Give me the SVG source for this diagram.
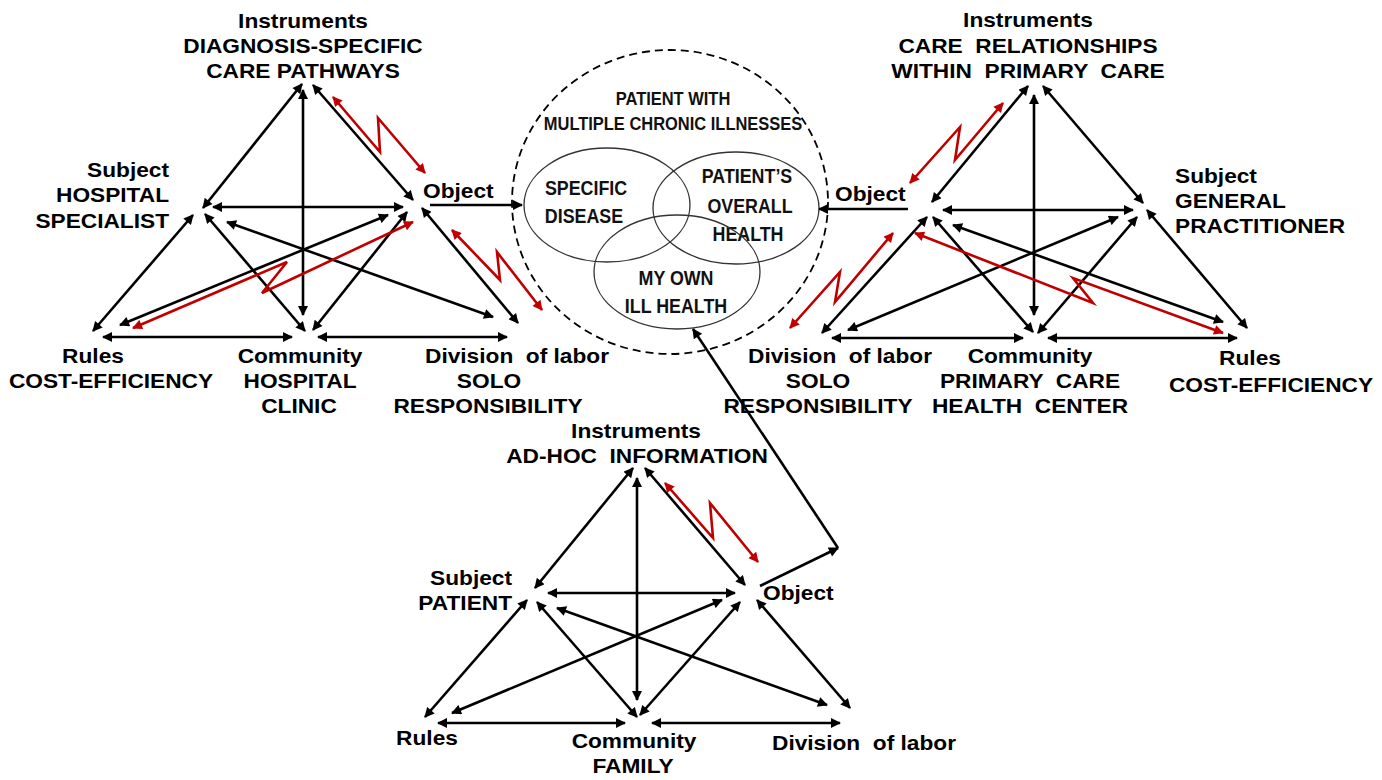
<svg xmlns="http://www.w3.org/2000/svg" width="1382" height="780" viewBox="0 0 1382 780">
<defs>
<style>
.t{font-family:"Liberation Sans",Arial,sans-serif;font-weight:bold;font-size:20px;fill:#000}
.m{text-anchor:middle}
.e{text-anchor:end}
.c{font-family:"Liberation Sans",Arial,sans-serif;font-weight:bold;font-size:20.5px;text-anchor:middle;fill:#111}
.ct{font-size:18.5px}
.l{stroke:#000;stroke-width:2.6;fill:none;marker-start:url(#a);marker-end:url(#a)}
.s{stroke:#000;stroke-width:2.6;fill:none;marker-end:url(#a)}
.r{stroke:#c00000;stroke-width:2.6;fill:none;stroke-linejoin:miter;marker-start:url(#ar);marker-end:url(#ar)}
.ell{fill:none;stroke:#333;stroke-width:1.3}
</style>
<marker id="a" viewBox="0 0 10 10" refX="9" refY="5" markerWidth="12" markerHeight="10" markerUnits="userSpaceOnUse" orient="auto-start-reverse"><path d="M0,0 L10,5 L0,10 z" fill="#000"/></marker>
<marker id="ar" viewBox="0 0 10 10" refX="9" refY="5" markerWidth="12" markerHeight="10" markerUnits="userSpaceOnUse" orient="auto-start-reverse"><path d="M0,0 L10,5 L0,10 z" fill="#c00000"/></marker>
</defs>
<rect width="1382" height="780" fill="#fff"/>

<!-- center patient -->
<g id="patient">
<ellipse cx="670" cy="202" rx="158" ry="152" fill="none" stroke="#000" stroke-width="1.8" stroke-dasharray="8 5"/>
<text class="c ct" transform="translate(673,105) scale(0.89,1)">PATIENT WITH</text>
<text class="c ct" transform="translate(673,130) scale(0.89,1)">MULTIPLE CHRONIC ILLNESSES</text>
</g>
<g id="specific-disease">
<ellipse class="ell" cx="607" cy="205" rx="83" ry="57"/>
<text class="c" transform="translate(586,195) scale(0.87,1)">SPECIFIC</text>
<text class="c" transform="translate(584,223) scale(0.87,1)">DISEASE</text>
</g>
<g id="overall-health">
<ellipse class="ell" cx="736" cy="208" rx="83" ry="56"/>
<text class="c" transform="translate(747,183) scale(0.87,1)">PATIENT’S</text>
<text class="c" transform="translate(750,213) scale(0.87,1)">OVERALL</text>
<text class="c" transform="translate(748,241) scale(0.87,1)">HEALTH</text>
</g>
<g id="own-ill-health">
<ellipse class="ell" cx="677" cy="272" rx="83" ry="57"/>
<text class="c" transform="translate(676,285) scale(0.87,1)">MY OWN</text>
<text class="c" transform="translate(676,313) scale(0.87,1)">ILL HEALTH</text>
</g>

<!-- left triangle nodes -->
<g id="hs-instruments">
<text class="t m" transform="translate(303,28) scale(1.135,1)">Instruments</text>
<text class="t m" transform="translate(303,53) scale(1.135,1)">DIAGNOSIS-SPECIFIC</text>
<text class="t m" transform="translate(303,78) scale(1.135,1)">CARE PATHWAYS</text>
</g>
<g id="hs-subject">
<text class="t e" transform="translate(169,177) scale(1.135,1)">Subject</text>
<text class="t e" transform="translate(169,202) scale(1.135,1)">HOSPITAL</text>
<text class="t e" transform="translate(169,228) scale(1.135,1)">SPECIALIST</text>
</g>
<g id="hs-object">
<text class="t" transform="translate(423,198) scale(1.135,1)">Object</text>
</g>
<g id="hs-rules">
<text class="t m" transform="translate(93,363) scale(1.135,1)">Rules</text>
<text class="t m" transform="translate(111,388) scale(1.135,1)">COST-EFFICIENCY</text>
</g>
<g id="hs-community">
<text class="t m" transform="translate(300,363) scale(1.135,1)">Community</text>
<text class="t m" transform="translate(300,388) scale(1.135,1)">HOSPITAL</text>
<text class="t m" transform="translate(299,413) scale(1.135,1)">CLINIC</text>
</g>
<g id="hs-division">
<text class="t m" transform="translate(517,363) scale(1.135,1)" xml:space="preserve">Division  of labor</text>
<text class="t m" transform="translate(489,388) scale(1.135,1)">SOLO</text>
<text class="t m" transform="translate(488,413) scale(1.135,1)">RESPONSIBILITY</text>
</g>

<!-- right triangle nodes -->
<g id="gp-instruments">
<text class="t m" transform="translate(1028,27) scale(1.135,1)">Instruments</text>
<text class="t m" transform="translate(1028,53) scale(1.135,1)" xml:space="preserve">CARE  RELATIONSHIPS</text>
<text class="t m" transform="translate(1028,78) scale(1.135,1)" xml:space="preserve">WITHIN  PRIMARY  CARE</text>
</g>
<g id="gp-object">
<text class="t" transform="translate(835,201) scale(1.135,1)">Object</text>
</g>
<g id="gp-subject">
<text class="t" transform="translate(1175,183) scale(1.135,1)">Subject</text>
<text class="t" transform="translate(1175,208) scale(1.135,1)">GENERAL</text>
<text class="t" transform="translate(1175,233) scale(1.135,1)">PRACTITIONER</text>
</g>
<g id="gp-division">
<text class="t m" transform="translate(840,363) scale(1.135,1)" xml:space="preserve">Division  of labor</text>
<text class="t m" transform="translate(818,388) scale(1.135,1)">SOLO</text>
<text class="t m" transform="translate(818,413) scale(1.135,1)">RESPONSIBILITY</text>
</g>
<g id="gp-community">
<text class="t m" transform="translate(1030,363) scale(1.135,1)">Community</text>
<text class="t m" transform="translate(1030,388) scale(1.135,1)" xml:space="preserve">PRIMARY  CARE</text>
<text class="t m" transform="translate(1030,413) scale(1.135,1)" xml:space="preserve">HEALTH  CENTER</text>
</g>
<g id="gp-rules">
<text class="t m" transform="translate(1250,365) scale(1.135,1)">Rules</text>
<text class="t m" transform="translate(1271,392) scale(1.135,1)">COST-EFFICIENCY</text>
</g>

<!-- bottom triangle nodes -->
<g id="pt-instruments">
<text class="t m" transform="translate(636,438) scale(1.135,1)">Instruments</text>
<text class="t m" transform="translate(637,463) scale(1.135,1)" xml:space="preserve">AD-HOC  INFORMATION</text>
</g>
<g id="pt-subject">
<text class="t e" transform="translate(512,585) scale(1.135,1)">Subject</text>
<text class="t e" transform="translate(512,610) scale(1.135,1)">PATIENT</text>
</g>
<g id="pt-object">
<text class="t" transform="translate(763,600) scale(1.135,1)">Object</text>
</g>
<g id="pt-rules">
<text class="t m" transform="translate(427,745) scale(1.135,1)">Rules</text>
</g>
<g id="pt-community">
<text class="t m" transform="translate(634,748) scale(1.135,1)">Community</text>
<text class="t m" transform="translate(633,773) scale(1.135,1)">FAMILY</text>
</g>
<g id="pt-division">
<text class="t" transform="translate(772,750) scale(1.135,1)" xml:space="preserve">Division  of labor</text>
</g>

<g id="connectors">
<!-- left -->
<line class="l" x1="302" y1="84" x2="203" y2="208"/>
<line class="l" x1="303" y1="90" x2="303" y2="315"/>
<line class="l" x1="313" y1="85" x2="413" y2="200"/>
<line class="l" x1="213" y1="207" x2="403" y2="207"/>
<line class="l" x1="193" y1="215" x2="93" y2="331"/>
<line class="l" x1="205" y1="214" x2="305" y2="331"/>
<line class="l" x1="227" y1="222" x2="493" y2="317"/>
<line class="l" x1="120" y1="325" x2="388" y2="215"/>
<line class="l" x1="313" y1="330" x2="407" y2="212"/>
<line class="l" x1="422" y1="208" x2="518" y2="323"/>
<line class="l" x1="103" y1="337" x2="292" y2="337"/>
<line class="l" x1="318" y1="337" x2="507" y2="337"/>
<polyline class="r" points="133,328 287,262 262,293 413,222"/>
<polyline class="r" points="333,97 380,152 378,118 425,173"/>
<polyline class="r" points="452,230 500,280 497,252 542,310"/>
<line class="s" x1="430" y1="205" x2="522" y2="205"/>
<!-- right -->
<line class="l" x1="1028" y1="86" x2="932" y2="202"/>
<line class="l" x1="1034" y1="95" x2="1034" y2="315"/>
<line class="l" x1="1043" y1="86" x2="1143" y2="203"/>
<line class="l" x1="943" y1="210" x2="1133" y2="210"/>
<line class="l" x1="927" y1="217" x2="822" y2="333"/>
<line class="l" x1="933" y1="217" x2="1033" y2="332"/>
<line class="l" x1="953" y1="225" x2="1223" y2="322"/>
<line class="l" x1="1118" y1="217" x2="848" y2="330"/>
<line class="l" x1="1137" y1="217" x2="1038" y2="333"/>
<line class="l" x1="1147" y1="210" x2="1247" y2="328"/>
<line class="l" x1="832" y1="338" x2="1023" y2="338"/>
<line class="l" x1="1048" y1="338" x2="1237" y2="338"/>
<polyline class="r" points="915,233 1093,303 1073,278 1223,333"/>
<polyline class="r" points="1003,103 955,160 960,127 910,183"/>
<polyline class="r" points="893,233 835,302 840,272 790,328"/>
<line class="s" x1="908" y1="209" x2="819" y2="209"/>
<!-- bottom -->
<line class="l" x1="633" y1="468" x2="535" y2="588"/>
<line class="l" x1="637" y1="478" x2="637" y2="700"/>
<line class="l" x1="645" y1="468" x2="745" y2="585"/>
<line class="l" x1="548" y1="593" x2="735" y2="593"/>
<line class="l" x1="757" y1="600" x2="850" y2="708"/>
<line class="l" x1="527" y1="600" x2="425" y2="717"/>
<line class="l" x1="537" y1="602" x2="637" y2="717"/>
<line class="l" x1="557" y1="608" x2="827" y2="705"/>
<line class="l" x1="452" y1="713" x2="722" y2="600"/>
<line class="l" x1="640" y1="715" x2="740" y2="602"/>
<line class="l" x1="438" y1="723" x2="625" y2="723"/>
<line class="l" x1="652" y1="723" x2="840" y2="723"/>
<polyline class="r" points="665,483 713,538 710,503 758,562"/>
<line class="s" x1="760" y1="586" x2="838" y2="548"/>
<line class="s" x1="838" y1="548" x2="693" y2="329"/>
</g>
</svg>
